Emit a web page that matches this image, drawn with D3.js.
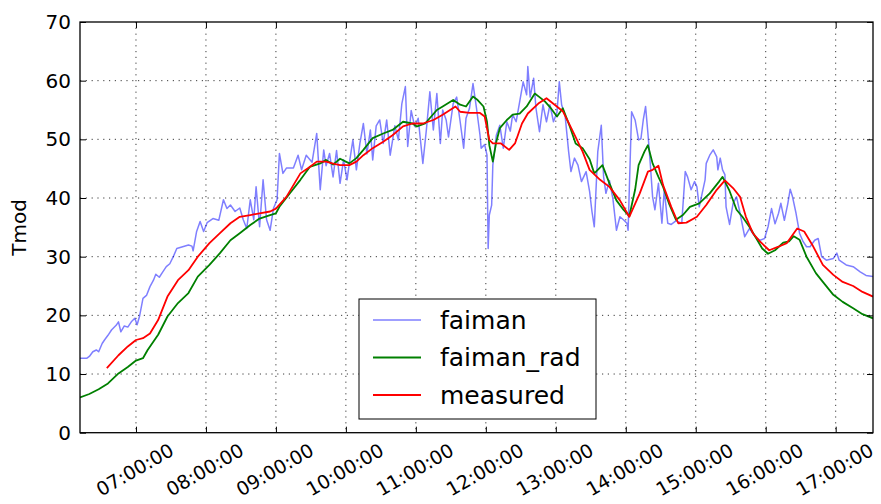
<!DOCTYPE html>
<html>
<head>
<meta charset="utf-8">
<script src="https://cdn.jsdelivr.net/npm/d3@7"></script>
<style>
  body { margin: 0; background: #fff; }
  text { font-family: "DejaVu Sans", sans-serif; fill: #000; }
</style>
</head>
<body>
<div id="chart"></div>
<script>
// Data
var faimanTimes = ["06:12","06:18","06:20","06:23","06:26","06:28","06:31","06:33","06:36","06:39","06:43","06:45","06:47","06:50","06:53","06:56","06:59","07:01","07:03","07:06","07:09","07:12","07:15","07:17","07:20","07:23","07:26","07:29","07:32","07:35","07:40","07:45","07:48","07:49","07:52","07:55","07:58","08:01","08:06","08:11","08:15","08:18","08:21","08:25","08:29","08:32","08:35","08:38","08:41","08:43","08:46","08:49","08:52","08:55","08:58","09:01","09:03","09:06","09:09","09:15","09:19","09:22","09:26","09:31","09:35","09:38","09:41","09:43","09:46","09:49","09:52","09:55","09:58","10:01","10:03","10:06","10:09","10:12","10:15","10:18","10:21","10:23","10:26","10:29","10:32","10:35","10:38","10:42","10:45","10:48","10:51","10:53","10:56","10:59","11:02","11:06","11:09","11:12","11:15","11:18","11:21","11:23","11:26","11:28","11:32","11:35","11:38","11:41","11:43","11:46","11:49","11:52","11:55","11:56","11:59","12:01","12:02","12:03","12:05","12:06","12:09","12:12","12:15","12:18","12:21","12:23","12:26","12:29","12:32","12:35","12:36","12:38","12:41","12:43","12:46","12:49","12:52","12:55","12:58","13:01","13:03","13:05","13:08","13:11","13:13","13:16","13:19","13:22","13:26","13:29","13:31","13:33","13:36","13:39","13:41","13:43","13:46","13:49","13:52","13:55","13:58","14:01","14:02","14:05","14:08","14:11","14:13","14:15","14:17","14:19","14:21","14:23","14:25","14:28","14:31","14:33","14:36","14:39","14:43","14:48","14:51","14:53","14:56","14:59","15:01","15:03","15:08","15:09","15:12","15:15","15:18","15:19","15:21","15:23","15:25","15:26","15:29","15:32","15:35","15:38","15:42","15:46","15:51","15:55","15:59","16:02","16:05","16:08","16:11","16:13","16:16","16:19","16:21","16:23","16:26","16:29","16:32","16:35","16:38","16:42","16:45","16:48","16:52","16:58","17:01","17:03","17:09","17:15","17:21","17:26","17:32"];
var faiman = [12.7,12.7,13.0,13.8,14.1,13.8,15.2,15.8,16.6,17.5,18.3,18.9,17.2,18.2,18.0,18.9,19.5,18.4,19.8,22.9,23.4,24.9,26.0,27.0,26.5,27.4,28.3,28.8,30.0,31.4,31.7,32.0,31.8,31.0,34.3,36.0,34.3,35.8,36.5,36.2,39.7,38.2,38.8,37.7,38.3,36.3,34.8,39.7,36.3,41.9,35.1,43.1,36.3,34.5,38.3,39.7,47.6,44.2,45.1,45.1,47.3,44.8,47.3,46.1,51.0,41.4,48.2,45.5,47.6,43.6,48.1,42.5,46.5,43.1,46.0,49.9,44.8,49.3,52.7,47.5,51.6,46.5,52.3,53.3,49.3,53.3,47.3,52.3,49.9,56.1,59.0,48.8,54.9,52.2,53.6,45.9,51.6,58.1,51.6,57.8,49.3,55.0,53.3,50.4,56.1,57.2,53.0,48.5,53.6,55.3,59.5,55.3,50.7,48.5,49.1,47.3,31.4,37.1,38.8,45.6,50.7,52.4,48.5,53.0,51.4,54.2,53.0,56.4,59.8,57.6,62.4,57.2,60.4,55.3,51.3,55.9,53.0,55.9,53.0,54.6,59.8,55.9,54.0,47.9,44.5,46.8,45.6,42.8,44.5,41.1,37.7,35.1,47.9,52.4,43.6,40.8,43.0,39.8,34.5,36.8,36.3,35.7,34.5,54.7,53.3,49.9,50.1,53.3,55.6,51.0,45.9,40.2,38.0,42.5,35.7,41.4,35.7,35.5,36.1,35.7,44.5,43.6,41.4,42.8,41.9,38.5,43.1,45.9,47.3,48.2,47.0,44.8,46.8,44.8,44.0,38.5,35.5,39.1,40.2,37.4,33.4,34.8,33.4,32.8,33.1,35.1,38.2,35.6,37.4,39.1,36.2,39.1,41.5,40.2,37.4,34.0,32.6,31.7,31.7,32.8,33.1,30.0,29.4,29.7,30.6,29.4,28.6,28.3,27.4,26.8,26.6];

var radTimes = ["06:12","06:20","06:28","06:36","06:45","06:53","07:00","07:06","07:10","07:19","07:27","07:36","07:45","07:53","08:03","08:12","08:21","08:29","08:38","08:46","08:55","09:00","09:03","09:12","09:21","09:29","09:38","09:43","09:49","09:55","10:03","10:09","10:15","10:23","10:32","10:40","10:49","10:57","11:01","11:08","11:18","11:23","11:32","11:38","11:43","11:49","11:53","11:58","12:01","12:03","12:06","12:09","12:12","12:18","12:23","12:29","12:35","12:42","12:46","12:51","12:55","13:01","13:06","13:12","13:17","13:23","13:29","13:33","13:36","13:40","13:46","13:52","13:58","14:03","14:08","14:11","14:16","14:19","14:23","14:28","14:32","14:37","14:43","14:49","14:55","15:03","15:12","15:20","15:23","15:29","15:35","15:40","15:46","15:52","15:57","16:02","16:08","16:15","16:20","16:24","16:29","16:35","16:43","16:49","16:58","17:06","17:15","17:23","17:32"];
var faimanRad = [6.0,6.6,7.4,8.4,10.1,11.2,12.3,12.7,14.1,16.7,19.8,22.1,23.8,26.6,28.6,30.6,32.8,34.0,35.4,36.5,37.1,37.4,38.5,40.8,43.1,45.3,45.9,46.5,45.7,46.7,45.9,46.8,48.2,50.2,51.0,51.6,53.0,52.7,52.2,52.7,55.0,55.6,56.7,55.9,55.6,57.3,56.7,55.6,53.0,49.0,46.2,49.6,51.9,53.3,54.2,54.4,55.6,57.8,57.2,56.4,55.5,53.9,55.3,52.2,49.3,48.5,46.6,44.2,44.8,45.6,42.5,39.6,38.0,36.9,41.4,45.6,47.9,49.0,45.9,43.6,41.9,39.1,36.3,37.1,38.5,39.1,40.8,42.8,43.6,41.2,38.0,36.8,35.1,33.1,31.4,30.5,31.1,32.4,32.6,33.5,32.9,30.0,27.2,25.7,23.5,22.3,21.2,20.2,19.5];

var measuredTimes = ["06:35","06:45","06:53","07:00","07:06","07:12","07:19","07:27","07:36","07:45","07:53","08:03","08:12","08:21","08:29","08:38","08:46","08:55","09:00","09:09","09:21","09:29","09:35","09:43","09:50","09:55","10:03","10:09","10:15","10:23","10:32","10:40","10:49","10:57","11:06","11:15","11:23","11:34","11:38","11:46","11:55","11:59","12:03","12:06","12:13","12:20","12:25","12:31","12:36","12:45","12:52","12:59","13:06","13:14","13:23","13:29","13:38","13:46","13:55","14:03","14:12","14:19","14:23","14:28","14:32","14:39","14:45","14:52","15:01","15:09","15:18","15:25","15:32","15:38","15:43","15:49","15:55","16:03","16:11","16:18","16:23","16:27","16:33","16:40","16:49","16:58","17:06","17:15","17:23","17:32"];
var measured = [11.0,13.2,14.7,15.8,16.1,16.9,19.2,23.2,26.0,27.7,30.0,32.3,34.0,35.7,36.8,37.1,37.4,37.7,38.2,40.2,44.2,45.3,46.2,46.2,45.8,45.6,45.6,46.2,47.3,48.5,49.6,50.7,52.2,52.7,52.7,53.3,54.2,55.6,54.7,54.5,54.5,53.9,49.9,49.3,49.3,48.2,49.3,52.7,54.4,56.1,57.0,55.9,54.8,51.6,47.9,44.8,43.1,41.9,39.6,36.8,40.8,44.5,44.8,45.5,42.2,38.5,35.7,35.8,36.8,38.8,41.4,43.0,41.7,40.2,36.8,34.0,32.6,31.1,31.7,32.3,33.7,34.8,34.3,32.0,28.6,26.9,25.7,25.0,24.0,23.2];

var seriesNames = ["faiman", "faiman_rad", "measured"];
var hourTicks = ["07:00","08:00","09:00","10:00","11:00","12:00","13:00","14:00","15:00","16:00","17:00"];
var yTicks = [0, 10, 20, 30, 40, 50, 60, 70];

// Chart area
var svgWidth = 881;
var svgHeight = 504;
var margin = { top: 22, right: 8, bottom: 71.3, left: 80 };
var width = svgWidth - margin.left - margin.right;
var height = svgHeight - margin.top - margin.bottom;

var parseTime = d3.timeParse("%H:%M");

function makeSeries(times, values) {
    return times.map(function(t, i) { return { time: parseTime(t), value: values[i] }; });
}

var series = [
    { name: seriesNames[0], color: "#0000ff", opacity: 0.5, width: 1.5, data: makeSeries(faimanTimes, faiman) },
    { name: seriesNames[1], color: "#008000", opacity: 1, width: 1.8, data: makeSeries(radTimes, faimanRad) },
    { name: seriesNames[2], color: "#ff0000", opacity: 1, width: 1.8, data: makeSeries(measuredTimes, measured) }
];

var allPoints = series[0].data.concat(series[1].data, series[2].data);

var svg = d3.select("#chart")
    .append("svg")
        .attr("width", svgWidth)
        .attr("height", svgHeight)
    .append("g")
        .attr("transform", `translate(${margin.left}, ${margin.top})`);

// Scales
var xScale = d3.scaleTime()
    .domain(d3.extent(allPoints, d => d.time))
    .range([0, width]);

var yScale = d3.scaleLinear()
    .domain([0, 70])
    .range([height, 0]);

var tickDates = hourTicks.map(parseTime);

// Dotted grid
var grid = svg.append("g")
    .attr("stroke", "#000")
    .attr("stroke-width", 0.9)
    .attr("stroke-dasharray", "1.2,4.6")
    .attr("opacity", 0.85);

grid.selectAll("line.gx")
    .data(tickDates)
    .enter()
    .append("line")
        .attr("class", "gx")
        .attr("x1", d => xScale(d))
        .attr("x2", d => xScale(d))
        .attr("y1", 0)
        .attr("y2", height);

grid.selectAll("line.gy")
    .data(yTicks.slice(1, -1))
    .enter()
    .append("line")
        .attr("class", "gy")
        .attr("x1", 0)
        .attr("x2", width)
        .attr("y1", d => yScale(d))
        .attr("y2", d => yScale(d));

// Clip lines to the plot area
svg.append("clipPath")
    .attr("id", "plot-clip")
    .append("rect")
        .attr("width", width)
        .attr("height", height);

var line = d3.line()
    .x(d => xScale(d.time))
    .y(d => yScale(d.value));

svg.append("g")
    .attr("clip-path", "url(#plot-clip)")
    .selectAll("path")
    .data(series)
    .enter()
    .append("path")
        .attr("d", d => line(d.data))
        .attr("fill", "none")
        .attr("stroke", d => d.color)
        .attr("stroke-opacity", d => d.opacity)
        .attr("stroke-width", d => d.width)
        .attr("stroke-linejoin", "round");

// Axes with inward ticks on all sides
var xBottom = svg.append("g")
    .attr("transform", "translate(0," + height + ")")
    .call(d3.axisBottom(xScale).tickValues(tickDates).tickSizeInner(-6).tickSizeOuter(0).tickFormat(""));
var xTop = svg.append("g")
    .call(d3.axisTop(xScale).tickValues(tickDates).tickSizeInner(-6).tickSizeOuter(0).tickFormat(""));
var yLeft = svg.append("g")
    .call(d3.axisLeft(yScale).tickValues(yTicks).tickSizeInner(-6).tickSizeOuter(0).tickPadding(9).tickFormat(d3.format("d")));
var yRight = svg.append("g")
    .attr("transform", "translate(" + width + ",0)")
    .call(d3.axisRight(yScale).tickValues(yTicks).tickSizeInner(-6).tickSizeOuter(0).tickFormat(""));

[xBottom, xTop, yLeft, yRight].forEach(function(ax) {
    ax.select(".domain").remove();
    ax.selectAll(".tick line").attr("stroke", "#000").attr("stroke-width", 1);
});

yLeft.selectAll(".tick text")
    .style("font-size", "20px")
    .attr("fill", "#000");

// Rotated time labels
svg.append("g")
    .selectAll("text")
    .data(tickDates)
    .enter()
    .append("text")
        .attr("transform", d => `translate(${xScale(d) - 1}, ${height + 37}) rotate(-30)`)
        .attr("text-anchor", "middle")
        .attr("dy", "0.35em")
        .style("font-size", "19px")
        .text(d => d3.timeFormat("%H:%M:%S")(d));

// Frame
svg.append("rect")
    .attr("width", width)
    .attr("height", height)
    .attr("fill", "none")
    .attr("stroke", "#000")
    .attr("stroke-width", 1.3);

// Y label
svg.append("text")
    .attr("transform", `translate(${-margin.left + 26}, ${height / 2}) rotate(-90)`)
    .attr("text-anchor", "middle")
    .style("font-size", "20px")
    .text("Tmod");

// Legend
var legend = svg.append("g")
    .attr("transform", "translate(279, 277)");

legend.append("rect")
    .attr("width", 237)
    .attr("height", 120)
    .attr("fill", "#fff")
    .attr("stroke", "#000")
    .attr("stroke-width", 1);

var legendItem = legend.selectAll("g.item")
    .data(series)
    .enter()
    .append("g")
        .attr("class", "item")
        .attr("transform", (d, i) => `translate(0, ${21 + i * 37.5})`);

legendItem.append("line")
    .attr("x1", 14)
    .attr("x2", 62)
    .attr("stroke", d => d.color)
    .attr("stroke-opacity", d => d.opacity)
    .attr("stroke-width", d => d.width);

legendItem.append("text")
    .attr("x", 81)
    .attr("dy", "0.35em")
    .style("font-size", "25px")
    .text(d => d.name);
</script>
</body>
</html>
